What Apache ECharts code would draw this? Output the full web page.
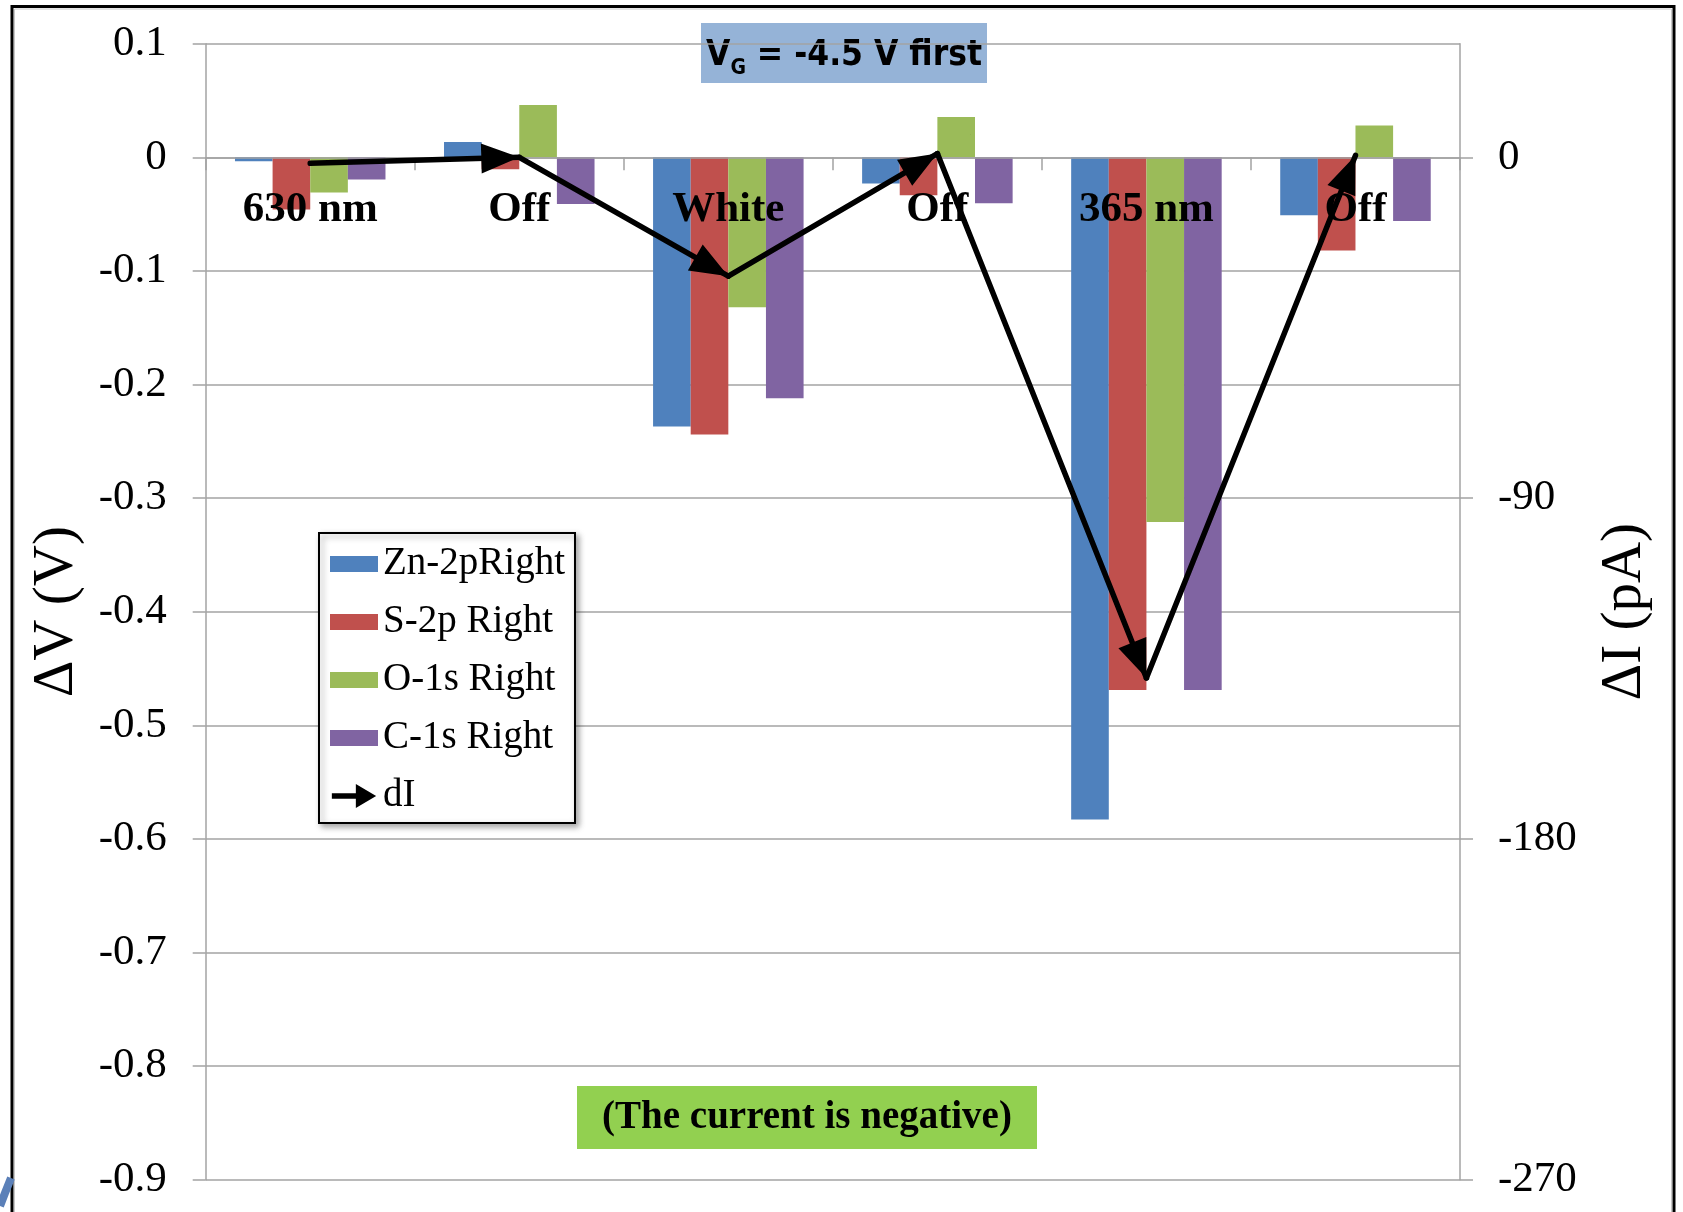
<!DOCTYPE html>
<html>
<head>
<meta charset="utf-8">
<script src="https://cdn.jsdelivr.net/npm/echarts@6/dist/echarts.min.js"></script>
<style>
  html, body { margin: 0; padding: 0; background: #fff; }
  #chart { width: 1683px; height: 1212px; }
</style>
</head>
<body>
<div id="chart"></div>
<script>
// Illumination steps along the category axis
const categories = ['630 nm', 'Off', 'White', 'Off', '365 nm', 'Off'];

// Potential shifts ΔV (V) per core level
const zn2pRight = [-0.0035, 0.0135, -0.237, -0.023, -0.583, -0.051];
const s2pRight  = [-0.046, -0.0105, -0.244, -0.0335, -0.469, -0.082];
const o1sRight  = [-0.031, 0.046, -0.132, 0.0355, -0.321, 0.028];
const c1sRight  = [-0.0195, -0.041, -0.212, -0.0405, -0.469, -0.056];

// Current change ΔI (pA)
const dI = [-1.6, 0, -31.4, 1, -137.5, 0.5];

// Axis ranges and right-axis tick values
const voltageRange = [-0.9, 0.1];
const currentRange = [-270, 30];
const currentTicks = [-270, -180, -90, 0];

const SERIF = '"Liberation Serif", "Times New Roman", serif';
const NARROW = '"Liberation Sans Narrow", "DejaVu Sans Condensed", "Open Sans", sans-serif';
const GRID_GRAY = '#a3a3a3';

// Plot box
const GRID = { left: 205.7, right: 223, top: 43.7, bottom: 32.3 };
const plotHeight = 1212 - GRID.top - GRID.bottom;
// Category axis sits on the zero line of the voltage axis
const zeroOffset = -plotHeight * (0 - voltageRange[0]) / (voltageRange[1] - voltageRange[0]);

// Solid arrowhead: tip sits at the centre of the path box so it lands on the point
const ARROW_HEAD = 'path://M0,0L0.2,0L0,0.2Z M0,38L15,76L-15,76Z';
const RECT_ICON = 'path://M0,0L48,0L48,16L0,16Z';
const ARROW_ICON = 'path://M0,10L26,10L26,0L48,13L26,26L26,16L0,16Z';

const barDefs = [
  { name: 'Zn-2pRight', data: zn2pRight, color: '#4f81bd' },
  { name: 'S-2p Right', data: s2pRight,  color: '#c0504d' },
  { name: 'O-1s Right', data: o1sRight,  color: '#9bbb59' },
  { name: 'C-1s Right', data: c1sRight,  color: '#8064a2' }
];

const barSeries = barDefs.map(d => ({
  type: 'bar',
  name: d.name,
  data: d.data,
  xAxisIndex: 0,
  yAxisIndex: 0,
  barGap: '0%',
  barCategoryGap: '28%',
  itemStyle: { color: d.color },
  silent: true
}));

// Consecutive dI points joined as arrow segments
const dISegments = dI.slice(1).map((v, i) => ({ coords: [[i, dI[i]], [i + 1, v]] }));

const option = {
  animation: false,
  backgroundColor: '#fff',
  grid: {
    left: GRID.left, right: GRID.right, top: GRID.top, bottom: GRID.bottom,
    containLabel: false,
    outerBoundsMode: 'none'
  },
  legend: {
    orient: 'vertical',
    left: 319,
    top: 533,
    data: [
      { name: 'Zn-2pRight', icon: RECT_ICON },
      { name: 'S-2p Right', icon: RECT_ICON },
      { name: 'O-1s Right', icon: RECT_ICON },
      { name: 'C-1s Right', icon: RECT_ICON },
      { name: 'dI', icon: ARROW_ICON, itemStyle: { color: '#000', borderWidth: 0 } }
    ],
    itemWidth: 48,
    itemHeight: 24,
    itemGap: 18,
    padding: [11, 10, 7, 11],
    symbolKeepAspect: true,
    selectedMode: false,
    backgroundColor: '#fff',
    borderColor: '#000',
    borderWidth: 2,
    shadowBlur: 6,
    shadowOffsetX: 3,
    shadowOffsetY: 3,
    shadowColor: 'rgba(0,0,0,0.35)',
    textStyle: { fontFamily: SERIF, fontSize: 39, color: '#000', lineHeight: 40 }
  },
  xAxis: {
    type: 'category',
    data: categories,
    position: 'bottom',
    offset: zeroOffset,
    z: 4,
    axisLine: { onZero: false, lineStyle: { color: GRID_GRAY, width: 1.5 } },
    axisTick: { show: true, length: 13, lineStyle: { color: GRID_GRAY, width: 1.5 } },
    axisLabel: {
      interval: 0,
      margin: 31,
      fontFamily: SERIF,
      fontWeight: 'bold',
      fontSize: 43,
      color: '#000'
    },
    splitLine: { show: false }
  },
  yAxis: [
    {
      type: 'value',
      position: 'left',
      min: voltageRange[0],
      max: voltageRange[1],
      interval: 0.1,
      name: 'ΔV (V)',
      nameLocation: 'middle',
      nameRotate: 90,
      nameGap: 120,
      nameTextStyle: { fontFamily: SERIF, fontSize: 57, color: '#000', lineHeight: 57 },
      axisLine: { show: true, lineStyle: { color: GRID_GRAY, width: 1.5 } },
      axisTick: { show: true, length: 13, lineStyle: { color: GRID_GRAY, width: 1.5 } },
      axisLabel: { margin: 39, fontFamily: SERIF, fontSize: 43, color: '#000' },
      splitLine: { show: true, lineStyle: { color: GRID_GRAY, width: 1.5 } }
    },
    {
      type: 'value',
      position: 'right',
      min: currentRange[0],
      max: currentRange[1],
      interval: 90,
      name: 'ΔI (pA)',
      nameLocation: 'middle',
      nameRotate: 90,
      nameGap: 137,
      nameTextStyle: { fontFamily: SERIF, fontSize: 57, color: '#000', lineHeight: 57 },
      axisLine: { show: true, lineStyle: { color: GRID_GRAY, width: 1.5 } },
      axisTick: { show: true, length: 13, customValues: currentTicks, lineStyle: { color: GRID_GRAY, width: 1.5 } },
      axisLabel: { margin: 38, customValues: currentTicks, fontFamily: SERIF, fontSize: 43, color: '#000' },
      splitLine: { show: false }
    }
  ],
  series: barSeries.concat([
    {
      type: 'lines',
      name: 'dI',
      coordinateSystem: 'cartesian2d',
      xAxisIndex: 0,
      yAxisIndex: 1,
      data: dISegments,
      symbol: ['none', ARROW_HEAD],
      symbolSize: [1, [30, 76]],
      lineStyle: { color: '#000', width: 5.5, opacity: 1, cap: 'round' },
      itemStyle: { color: '#000' },
      z: 6,
      silent: true
    }
  ]),
  graphic: [
    // outer frame
    {
      type: 'rect', z: 50, silent: true,
      shape: { x: 12, y: 6.5, width: 1662, height: 1260 },
      style: { fill: 'none', stroke: '#000', lineWidth: 3 }
    },
    {
      type: 'rect', z: 50, silent: true,
      shape: { x: 14.5, y: 9, width: 1657, height: 1260 },
      style: { fill: 'none', stroke: '#c8c8c8', lineWidth: 1 }
    },
    // corner ornament
    {
      type: 'polyline', z: 50, silent: true,
      shape: { points: [[0, 1206], [5, 1193], [11, 1178]] },
      style: { stroke: '#5b80b8', lineWidth: 8, fill: 'none' }
    },
    // gate-voltage tag
    {
      type: 'group', left: 701, top: 23, z: 100,
      children: [
        { type: 'rect', shape: { x: 0, y: 0, width: 286, height: 60 }, style: { fill: '#95b3d7' } },
        {
          type: 'text', x: 143, y: 33,
          style: {
            text: '{v|V}{g|G}{v| = -4.5 V first}',
            align: 'center',
            verticalAlign: 'middle',
            rich: {
              v: { fontFamily: NARROW, fontWeight: 'bold', fontSize: 35, lineHeight: 42, fill: '#000' },
              g: { fontFamily: NARROW, fontWeight: 'bold', fontSize: 21, lineHeight: 16, padding: [26, 0, 0, 0], fill: '#000' }
            }
          }
        }
      ]
    },
    // sign note
    {
      type: 'group', left: 577, top: 1086, z: 100,
      children: [
        { type: 'rect', shape: { x: 0, y: 0, width: 460, height: 63 }, style: { fill: '#92d050' } },
        {
          type: 'text', x: 230, y: 31.5,
          style: {
            text: '(The current is negative)',
            align: 'center',
            verticalAlign: 'middle',
            fontFamily: SERIF,
            fontWeight: 'bold',
            fontSize: 39,
            fill: '#000'
          }
        }
      ]
    }
  ]
};

const chart = echarts.init(document.getElementById('chart'), null, { renderer: 'canvas' });
chart.setOption(option);
</script>
</body>
</html>
